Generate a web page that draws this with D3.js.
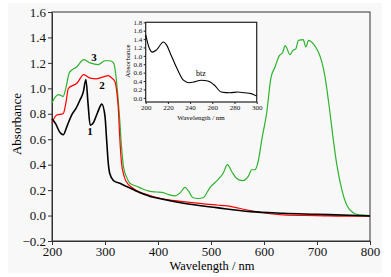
<!DOCTYPE html>
<html>
<head>
<meta charset="utf-8">
<script src="https://cdn.jsdelivr.net/npm/d3@7"></script>
<style>
  body { margin: 0; background: #fff; }
  text { font-family: "Liberation Serif", "DejaVu Serif", serif; }
</style>
</head>
<body>
<div id="chart"></div>
<script>
// spectra: [wavelength nm, absorbance]
const curve1 = [[200,0.76],[207,0.72],[214,0.66],[221,0.635],[229,0.71],[237,0.79],[245,0.84],[253,0.91],[259,0.97],[264,1.07],[268,0.88],[272,0.71],[278,0.73],[286,0.81],[294,0.876],[300,0.78],[303,0.6],[306,0.42],[309,0.33],[316,0.275],[330,0.25],[341,0.228],[366,0.18],[385,0.15],[400,0.136],[448,0.097],[511,0.062],[574,0.031],[636,0.018],[699,0.01],[775,0.0],[800,-0.003]];
const curve2 = [[200,0.73],[209,0.79],[221,0.80],[226,0.88],[231,1.0],[247,1.04],[260,1.107],[272,1.08],[284,1.075],[297,1.09],[306,1.1],[313,1.08],[319,1.05],[322,0.98],[325,0.85],[328,0.6],[331,0.42],[336,0.31],[340,0.267],[353,0.215],[385,0.158],[404,0.136],[448,0.11],[511,0.083],[530,0.076],[574,0.039],[636,0.005],[699,0.0],[775,-0.005],[800,-0.005]];
const curve3 = [[200,0.885],[206,0.93],[212,0.95],[221,0.936],[226,1.0],[233,1.125],[247,1.17],[260,1.225],[272,1.2],[287,1.186],[300,1.217],[309,1.217],[316,1.2],[320,1.12],[323,1.0],[327,0.8],[331,0.55],[335,0.38],[341,0.3],[347,0.254],[360,0.23],[372,0.207],[385,0.19],[397,0.185],[410,0.18],[420,0.165],[432,0.154],[442,0.18],[451,0.222],[458,0.19],[466,0.14],[476,0.134],[485,0.14],[498,0.22],[514,0.286],[523,0.333],[531,0.4],[539,0.346],[548,0.294],[560,0.275],[570,0.306],[577,0.36],[583,0.36],[589,0.425],[596,0.6],[605,0.806],[613,1.08],[621,1.17],[629,1.257],[635,1.28],[640,1.335],[649,1.265],[655,1.3],[660,1.31],[665,1.377],[674,1.383],[679,1.325],[684,1.377],[693,1.35],[702,1.29],[709,1.21],[715,1.094],[723,0.857],[730,0.62],[737,0.41],[747,0.2],[756,0.083],[768,0.023],[781,0.005],[800,0.0]];
const btz = [[200,1.5],[203,1.2],[206,1.09],[210,1.15],[216,1.33],[219,1.25],[222,1.07],[228,0.71],[234,0.42],[239,0.36],[244,0.38],[250,0.42],[256,0.4],[262,0.3],[268,0.14],[276,0.12],[283,0.14],[289,0.12],[295,0.10],[300,0.04]];

const xTicks = [200, 300, 400, 500, 600, 700, 800];
const yTicks = [-0.2, 0, 0.2, 0.4, 0.6, 0.8, 1.0, 1.2, 1.4, 1.6];
const insetXTicks = [200, 220, 240, 260, 280, 300];
const insetYTicks = [0, 0.2, 0.4, 0.6, 0.8, 1.0, 1.2, 1.4, 1.6, 1.8];

const series = [
  { name: "1", data: curve1, color: "#000", width: 1.6, label: [90, 132] },
  { name: "2", data: curve2, color: "#f00", width: 1.2, label: [102, 86] },
  { name: "3", data: curve3, color: "#2db32d", width: 1.2, label: [94, 58] }
];

const width = 391, height = 277;
const svg = d3.select("#chart").append("svg")
    .attr("width", width)
    .attr("height", height);

svg.append("rect")
    .attr("x", 8).attr("y", 3)
    .attr("width", 374).attr("height", 270)
    .attr("fill", "#f8f8f8");

// main axes
const x = d3.scaleLinear().domain([200, 800]).range([52, 370]);
const y = d3.scaleLinear().domain([-0.2, 1.6]).range([241, 12]);

svg.append("rect")
    .attr("x", 52).attr("y", 12)
    .attr("width", 318).attr("height", 229)
    .attr("fill", "none").attr("stroke", "#333").attr("stroke-width", 1);

const xAxis = svg.append("g")
    .attr("transform", "translate(0,241)")
    .call(d3.axisBottom(x).tickValues(xTicks).tickSize(4).tickPadding(2).tickSizeOuter(0).tickFormat(d3.format("d")));
const yAxis = svg.append("g")
    .attr("transform", "translate(52,0)")
    .call(d3.axisLeft(y).tickValues(yTicks).tickSize(4).tickPadding(2).tickSizeOuter(0).tickFormat(d3.format(".1f")));

[xAxis, yAxis].forEach(g => {
    g.select(".domain").attr("stroke", "#333");
    g.selectAll(".tick line").attr("stroke", "#333");
    g.selectAll(".tick text").attr("font-size", 13).attr("fill", "#111")
        .style("font-family", "'Liberation Serif', serif");
});

svg.append("text")
    .attr("x", 212).attr("y", 270)
    .attr("text-anchor", "middle")
    .attr("font-size", 12.5)
    .text("Wavelength / nm");

svg.append("text")
    .attr("transform", "translate(21,124) rotate(-90)")
    .attr("text-anchor", "middle")
    .attr("font-size", 13)
    .text("Absorbance");

const line = d3.line()
    .x(d => x(d[0]))
    .y(d => y(d[1]))
    .curve(d3.curveMonotoneX);

// draw green first, black on top
series.slice().reverse().forEach(s => {
    svg.append("path")
        .datum(s.data)
        .attr("d", line)
        .attr("fill", "none")
        .attr("stroke", s.color)
        .attr("stroke-width", s.width)
        .attr("stroke-linejoin", "round");
});

series.forEach(s => {
    svg.append("text")
        .attr("x", s.label[0]).attr("y", s.label[1])
        .attr("text-anchor", "middle")
        .attr("dominant-baseline", "middle")
        .attr("font-size", 11)
        .attr("font-weight", "bold")
        .text(s.name);
});

// inset
const ix = d3.scaleLinear().domain([200, 300]).range([145.7, 256.7]);
const iy = d3.scaleLinear().domain([-0.1, 1.8]).range([102, 22.3]);

const inset = svg.append("g");
inset.append("rect")
    .attr("x", 145.7).attr("y", 22.3)
    .attr("width", 111).attr("height", 79.7)
    .attr("fill", "#fff").attr("stroke", "#222").attr("stroke-width", 1.2);

const ixAxis = inset.append("g")
    .attr("transform", "translate(0,102)")
    .call(d3.axisBottom(ix).tickValues(insetXTicks).tickSize(2).tickPadding(1).tickSizeOuter(0).tickFormat(d3.format("d")));
const iyAxis = inset.append("g")
    .attr("transform", "translate(145.7,0)")
    .call(d3.axisLeft(iy).tickValues(insetYTicks).tickSize(2).tickPadding(1.5).tickSizeOuter(0).tickFormat(d3.format(".1f")));

[ixAxis, iyAxis].forEach(g => {
    g.select(".domain").remove();
    g.selectAll(".tick line").attr("stroke", "#222");
    g.selectAll(".tick text").attr("font-size", 7).attr("fill", "#111")
        .style("font-family", "'Liberation Serif', serif");
});

inset.append("text")
    .attr("x", 201).attr("y", 120)
    .attr("text-anchor", "middle")
    .attr("font-size", 7)
    .text("Wavelength / nm");

inset.append("text")
    .attr("transform", "translate(130,61) rotate(-90)")
    .attr("text-anchor", "middle")
    .attr("font-size", 7)
    .text("Absorbance");

const iline = d3.line()
    .x(d => ix(d[0]))
    .y(d => iy(d[1]))
    .curve(d3.curveMonotoneX);

inset.append("path")
    .datum(btz)
    .attr("d", iline)
    .attr("fill", "none")
    .attr("stroke", "#000")
    .attr("stroke-width", 1.1);

inset.append("text")
    .attr("x", 201).attr("y", 74)
    .attr("text-anchor", "middle")
    .attr("dominant-baseline", "middle")
    .attr("font-size", 8)
    .text("btz");
</script>
</body>
</html>
